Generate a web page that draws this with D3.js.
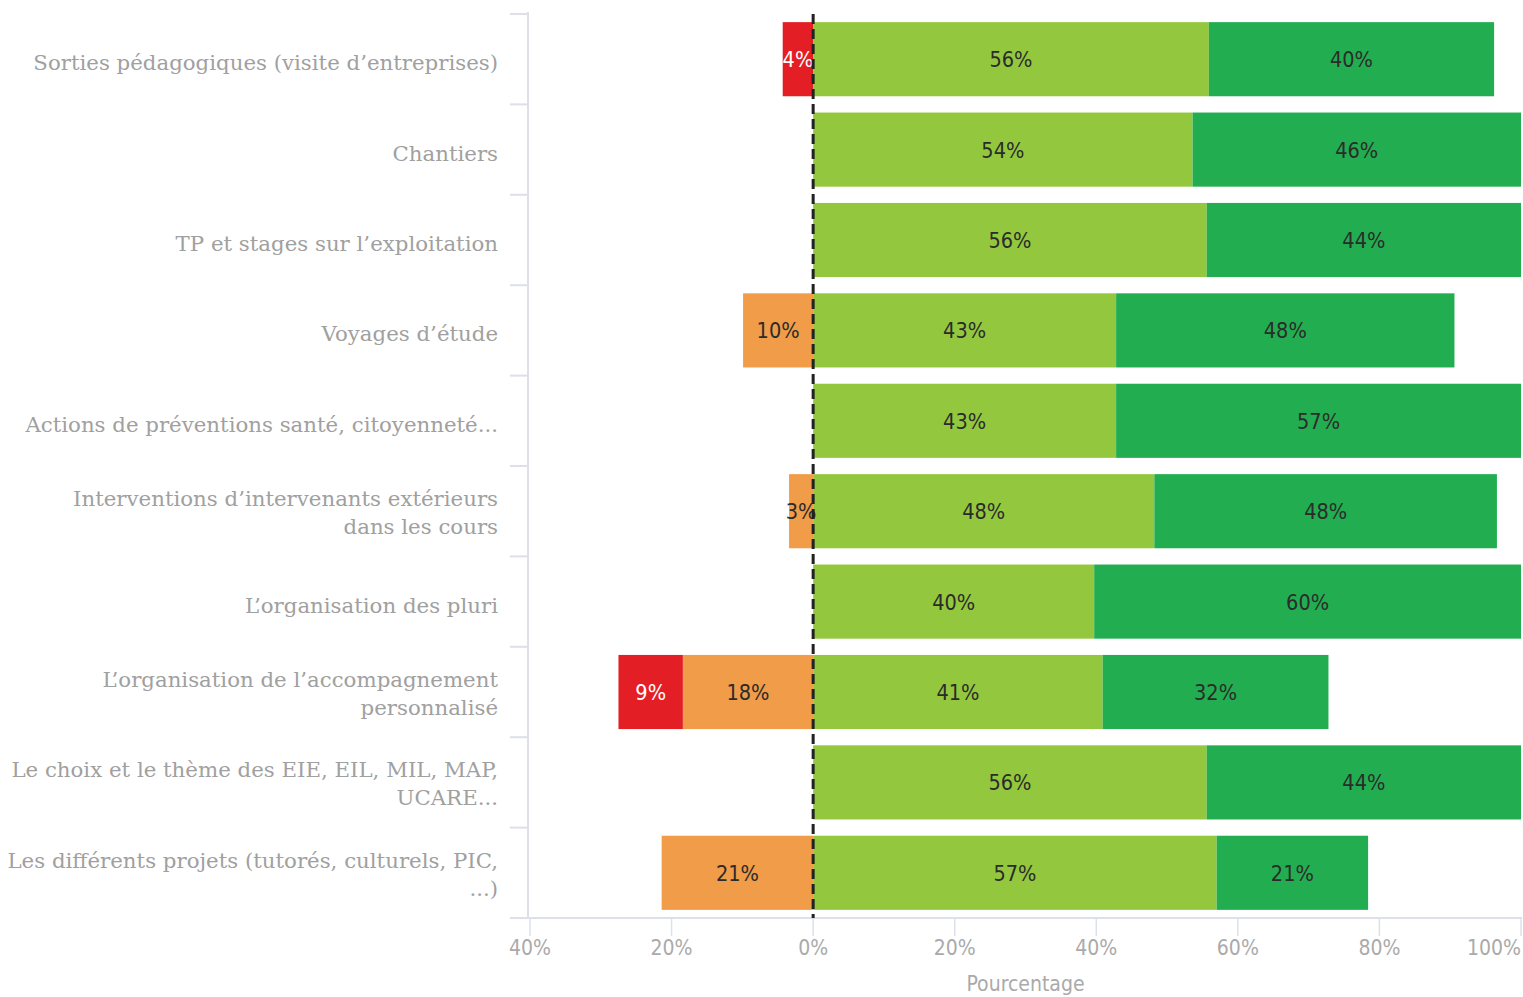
<!DOCTYPE html>
<html><head><meta charset="utf-8">
<script src="https://cdn.jsdelivr.net/npm/d3@7"></script>
<style>
html,body{margin:0;padding:0;background:#fff;}
svg{display:block;}
</style></head>
<body>
<svg id="chart" width="1523" height="997"></svg>
<script>
const categories = [
  ["Sorties pédagogiques (visite d’entreprises)"],
  ["Chantiers"],
  ["TP et stages sur l’exploitation"],
  ["Voyages d’étude"],
  ["Actions de préventions santé, citoyenneté..."],
  ["Interventions d’intervenants extérieurs","dans les cours"],
  ["L’organisation des pluri"],
  ["L’organisation de l’accompagnement","personnalisé"],
  ["Le choix et le thème des EIE, EIL, MIL, MAP,","UCARE..."],
  ["Les différents projets (tutorés, culturels, PIC,","...)"]
];
const veryNegative = [4.3, 0, 0, 0, 0, 0, 0, 9.1, 0, 0];
const negative     = [0, 0, 0, 9.9, 0, 3.4, 0, 18.4, 0, 21.4];
const positive     = [55.9, 53.6, 55.6, 42.8, 42.8, 48.2, 39.7, 40.9, 55.6, 57.0];
const veryPositive = [40.3, 46.4, 44.4, 47.8, 57.2, 48.4, 60.3, 31.9, 44.4, 21.4];
const xTicks = [-40, -20, 0, 20, 40, 60, 80, 100];
const xTitle = "Pourcentage";

const colors = {vneg:"#e31e24", neg:"#f09c48", pos:"#93c83e", vpos:"#22ae50"};

const svg = d3.select("#chart");
const x = d3.scaleLinear().domain([-40, 100]).range([530, 1521]);
const y = d3.scaleBand().domain(d3.range(categories.length)).range([14, 918])
  .paddingInner(0.18).paddingOuter(0.09);

const sansC = "'Liberation Sans Narrow','DejaVu Sans Condensed','Roboto Condensed',sans-serif";
const serif = "'DejaVu Serif','Liberation Serif',serif";

const axisColor = "#dde0ea";
const g = svg.append("g");
g.append("line").attr("x1", x(-40) - 2).attr("x2", x(-40) - 2)
  .attr("y1", 12).attr("y2", 918).attr("stroke", axisColor).attr("stroke-width", 2);
const bounds = d3.range(categories.length + 1).map(i => 14 + i * y.step());
g.selectAll(".ytick").data(bounds).join("line")
  .attr("x1", 510).attr("x2", x(-40) - 2)
  .attr("y1", d => d).attr("y2", d => d)
  .attr("stroke", axisColor).attr("stroke-width", 2);
g.append("line").attr("x1", 510).attr("x2", 1522).attr("y1", 918).attr("y2", 918)
  .attr("stroke", axisColor).attr("stroke-width", 2);
g.selectAll(".xtick").data(xTicks).join("line")
  .attr("x1", d => x(d)).attr("x2", d => x(d))
  .attr("y1", 918).attr("y2", 936).attr("stroke", axisColor).attr("stroke-width", 1.5);
g.selectAll(".xlab").data(xTicks).join("text")
  .attr("x", d => x(d))
  .attr("y", 955)
  .attr("text-anchor", (d, i) => i === xTicks.length - 1 ? "end" : "middle")
  .attr("font-family", sansC).attr("font-size", 21).attr("fill", "#aaaaaa")
  .text(d => Math.abs(d) + "%");
svg.append("text").attr("x", (x(-40) + 1521) / 2).attr("y", 991)
  .attr("text-anchor", "middle").attr("font-family", sansC).attr("font-size", 21)
  .attr("fill", "#aaaaaa").text(xTitle);

categories.forEach((lines, i) => {
  const cy = y(i) + y.bandwidth() / 2;
  const lh = 28;
  const t = svg.append("text").attr("text-anchor", "end")
    .attr("font-family", serif).attr("font-size", 21.3).attr("fill", "#a0a0a0");
  lines.forEach((ln, j) => {
    t.append("tspan").attr("x", 498)
      .attr("y", cy + (j - (lines.length - 1) / 2) * lh + (lines.length > 1 ? 9 : 11)).text(ln);
  });
});

const segs = [];
categories.forEach((c, i) => {
  let left = -(negative[i] + veryNegative[i]);
  segs.push({i, x0: left, x1: left + veryNegative[i], v: veryNegative[i], k: "vneg"});
  segs.push({i, x0: -negative[i], x1: 0, v: negative[i], k: "neg"});
  segs.push({i, x0: 0, x1: positive[i], v: positive[i], k: "pos"});
  segs.push({i, x0: positive[i], x1: positive[i] + veryPositive[i], v: veryPositive[i], k: "vpos"});
});
const data = segs.filter(s => s.v > 0);
svg.append("g").selectAll("rect").data(data).join("rect")
  .attr("x", d => x(d.x0)).attr("width", d => x(d.x1) - x(d.x0))
  .attr("y", d => y(d.i)).attr("height", y.bandwidth())
  .attr("fill", d => colors[d.k]);
svg.append("g").selectAll("text").data(data).join("text")
  .attr("x", d => (x(d.x0) + x(d.x1)) / 2)
  .attr("y", d => y(d.i) + y.bandwidth() / 2 + 8)
  .attr("text-anchor", "middle")
  .attr("font-family", sansC).attr("font-size", 21.5)
  .attr("fill", d => d.k === "vneg" ? "#ffffff" : "#2b2b2b")
  .text(d => Math.round(d.v) + "%");

svg.append("line").attr("x1", x(0)).attr("x2", x(0)).attr("y1", 14).attr("y2", 918)
  .attr("stroke", "#222").attr("stroke-width", 3).attr("stroke-dasharray", "10,5");
</script>
</body></html>
